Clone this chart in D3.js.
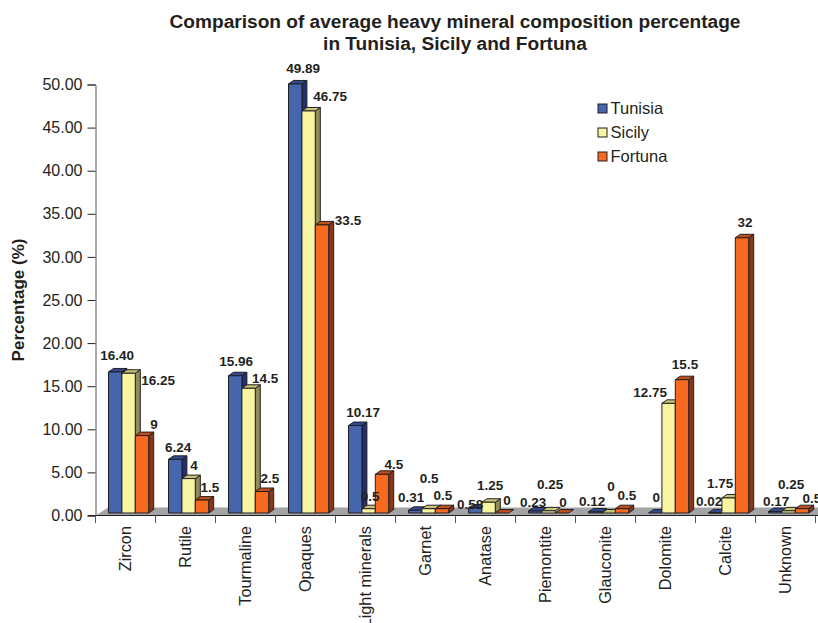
<!DOCTYPE html>
<html>
<head>
<meta charset="utf-8">
<script src="https://cdnjs.cloudflare.com/ajax/libs/d3/7.8.5/d3.min.js"></script>
<style>
  html, body { margin: 0; padding: 0; background: white; overflow: hidden; }
  text { font-family: "Liberation Sans", Arial, sans-serif; fill: #231f20; }
</style>
</head>
<body>
<script>
// values
var minerals = ["Zircon", "Rutile", "Tourmaline", "Opaques", "Light minerals", "Garnet", "Anatase", "Piemontite", "Glauconite", "Dolomite", "Calcite", "Unknown"]
var seriesNames = ["Tunisia", "Sicily", "Fortuna"]
var tunisia = [16.40, 6.24, 15.96, 49.89, 10.17, 0.31, 0.58, 0.23, 0.12, 0, 0.02, 0.17]
var sicily = [16.25, 4, 14.5, 46.75, 0.5, 0.5, 1.25, 0.25, 0, 12.75, 1.75, 0.25]
var fortuna = [9, 1.5, 2.5, 33.5, 4.5, 0.5, 0, 0, 0.5, 15.5, 32, 0.5]
// printed text of the labels, the first series keeps two decimals
var tunisiaLabels = ["16.40", "6.24", "15.96", "49.89", "10.17", "0.31", "0.58", "0.23", "0.12", "0", "0.02", "0.17"]
var yTicks = [0, 5, 10, 15, 20, 25, 30, 35, 40, 45, 50]

// where each value label sits relative to the top of its bar, [dx, dy]
var tunisiaNudge = [[2,-17],[3,-12],[1,-14],[8,-16],[8,-13.5],[-4,-13],[-5,-4],[-2,-9],[-3,-11],[1,-16],[-6,-12],[1,-10.5]]
var sicilyNudge = [[29.5,7],[5.5,-13.6],[16.5,-10],[21.5,-15],[1.5,-12],[0.5,-30],[1.5,-17],[1.5,-27],[2.5,-27],[-18.5,-11],[-8.5,-15],[2.5,-27]]
var fortunaNudge = [[12,-11.6],[8,-13],[8,-13.5],[26,-5],[12,-10],[1,-13],[5,-13],[1,-11],[5,-13],[3,-15],[3,-16],[10,-10]]

var colors = {
  Tunisia: {front: "#4565ad", top: "#2f4a94", side: "#1f2f70"},
  Sicily: {front: "#f8f4a2", top: "#c9c67a", side: "#8f8d5a"},
  Fortuna: {front: "#f7691f", top: "#c04e1a", side: "#86391a"}
}

var w = 818, h = 623
var depthX = 5, depthY = 3.5

var svg = d3.select("body").append("svg")
  .attr("width", w)
  .attr("height", h)
  .style("display", "block")

var x0 = d3.scaleBand().domain(minerals).range([96, 816])
var x1 = d3.scaleBand().domain(seriesNames).range([12.5, 52.7])
var y = d3.scaleLinear().domain([0, 50]).range([513, 83])
var yAxisScale = d3.scaleLinear().domain([0, 50]).range([515.5, 84.5])

var rows = [
  {name: "Tunisia", values: tunisia, nudge: tunisiaNudge},
  {name: "Sicily", values: sicily, nudge: sicilyNudge},
  {name: "Fortuna", values: fortuna, nudge: fortunaNudge}
]

// floor of the 3d chart
svg.append("path")
  .attr("d", "M96,515.5L108,507.5L818,507.5L818,515.5Z")
  .style("fill", "#a3a4a6")

// axes
var yAxis = d3.axisLeft(yAxisScale).tickValues(yTicks).tickFormat(d3.format(".2f")).tickSize(8)
var gy = svg.append("g").attr("transform", "translate(95.5,0)").call(yAxis)
gy.selectAll("text").style("font-size", "16px").attr("x", -13)
gy.selectAll("line").style("stroke", "#231f20")
gy.select(".domain").style("stroke", "#58595b")

var xAxis = d3.axisBottom(x0).tickSize(0).tickFormat("")
var gx = svg.append("g").attr("transform", "translate(0,515.5)").call(xAxis)
gx.select(".domain").remove()
svg.append("line").attr("x1", 88).attr("x2", 818).attr("y1", 515.5).attr("y2", 515.5).style("stroke", "#231f20")

svg.selectAll(".xtick").data(d3.range(minerals.length + 1))
  .enter().append("line")
  .attr("class", "xtick")
  .attr("x1", function(i) { return 95.5 + i * x0.step() })
  .attr("x2", function(i) { return 95.5 + i * x0.step() })
  .attr("y1", 515.5)
  .attr("y2", 523)
  .style("stroke", "#58595b")

svg.selectAll(".cat").data(minerals)
  .enter().append("text")
  .attr("class", "cat")
  .attr("transform", function(d) { return "translate(" + (x0(d) + x0.bandwidth() / 2 - 0.5) + ",526) rotate(-90)" })
  .attr("dy", "0.35em")
  .attr("text-anchor", "end")
  .style("font-size", "16.3px")
  .text(function(d) { return d })

// bars, left to right so neighbours overlap the way they do in the picture
minerals.forEach(function(m, i) {
  rows.forEach(function(r) {
    var v = r.values[i]
    var left = x0(m) + x1(r.name), right = left + x1.bandwidth()
    var top = y(v), base = y(0)
    var c = colors[r.name]
    var g = svg.append("g").style("stroke", "#231f20").style("stroke-width", 1).style("stroke-linejoin", "round")
    if (v > 0.3) {
      g.append("path")
        .attr("d", "M" + right + "," + top + "L" + (right + depthX) + "," + (top - depthY) + "L" + (right + depthX) + "," + (base - depthY) + "L" + right + "," + base + "Z")
        .style("fill", c.side)
    }
    g.append("path")
      .attr("d", "M" + left + "," + top + "L" + (left + depthX) + "," + (top - depthY) + "L" + (right + depthX) + "," + (top - depthY) + "L" + right + "," + top + "Z")
      .style("fill", c.top)
    if (v > 0) {
      g.append("rect")
        .attr("x", left)
        .attr("y", top)
        .attr("width", right - left)
        .attr("height", base - top)
        .style("fill", c.front)
    }
  })
})

// value labels
rows.forEach(function(r) {
  r.values.forEach(function(v, i) {
    var cx = x0(minerals[i]) + x1(r.name) + x1.bandwidth() / 2
    svg.append("text")
      .attr("x", cx + r.nudge[i][0])
      .attr("y", y(v) + r.nudge[i][1])
      .attr("dy", "0.35em")
      .attr("text-anchor", "middle")
      .style("font-size", "13.5px")
      .style("font-weight", "bold")
      .text(r.name === "Tunisia" ? tunisiaLabels[i] : v)
  })
})

// title
svg.append("text")
  .attr("x", 455).attr("y", 28)
  .attr("text-anchor", "middle")
  .style("font-size", "19.1px").style("font-weight", "bold")
  .text("Comparison of average heavy mineral composition percentage")
svg.append("text")
  .attr("x", 455).attr("y", 50)
  .attr("text-anchor", "middle")
  .style("font-size", "19.1px").style("font-weight", "bold")
  .text("in Tunisia, Sicily and Fortuna")

// y title
svg.append("text")
  .attr("transform", "translate(18,300) rotate(-90)")
  .attr("dy", "0.35em")
  .attr("text-anchor", "middle")
  .style("font-size", "17px").style("font-weight", "bold")
  .text("Percentage (%)")

// legend
var legendRow = d3.scaleBand().domain(seriesNames).range([96, 168])
var legend = svg.selectAll(".legend").data(seriesNames)
  .enter().append("g")
  .attr("class", "legend")
  .attr("transform", function(d) { return "translate(598," + legendRow(d) + ")" })
legend.append("rect")
  .attr("y", 8).attr("width", 9).attr("height", 9)
  .style("stroke", "#231f20")
  .style("fill", function(d) { return colors[d].front })
legend.append("text")
  .attr("x", 12.5).attr("y", 12.5)
  .attr("dy", "0.35em")
  .style("font-size", "16.5px")
  .text(function(d) { return d })
</script>
</body>
</html>
